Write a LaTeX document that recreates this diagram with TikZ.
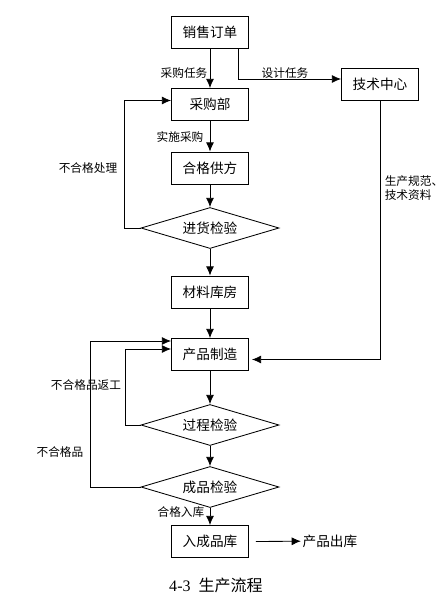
\documentclass[tikz,border=0pt]{standalone}
\usepackage{fontspec}
\setmainfont{Noto Sans CJK SC}
\newfontfamily\numfont{Liberation Serif}
\usetikzlibrary{shapes.geometric,calc,arrows.meta}

\begin{document}
\begin{tikzpicture}[x=0.025cm, y=-0.025cm, >={Latex[length=2.3mm,width=2mm]}, line width=0.6pt]
        \tikzstyle{box}=[draw, rectangle, inner sep=0pt, minimum width=1.925cm, minimum height=0.8cm, font=\fontsize{9.7}{11}\selectfont]
        \tikzstyle{check}=[draw, diamond, aspect=3.4, inner sep=0pt, minimum width=3.45cm, minimum height=1.025cm, font=\fontsize{9.7}{11}\selectfont]
        \tikzstyle{lbl}=[inner sep=1pt, font=\fontsize{8.3}{10.5}\selectfont]
        \useasboundingbox [fill=white] (0,0) rectangle (446,608);
        % main column
        \node [box] (sale) at (210,32) {销售订单};
        \node [box] (purch) at (210,104.5) {采购部};
        \node [box] (supp) at (210,168) {合格供方};
        \node [check] (inchk) at (210,228) {进货检验};
        \node [box] (store) at (210,292) {材料库房};
        \node [box] (make) at (210,354.5) {产品制造};
        \node [check] (pchk) at (210,425) {过程检验};
        \node [check] (fchk) at (210,487) {成品检验};
        \node [box] (fstore) at (210,541.5) {入成品库};
        \node [box] (tech) at (380,84) {技术中心};
        \node [inner sep=1pt, font=\fontsize{9.7}{11}\selectfont] (out) at (330,541) {产品出库};
        % labels
        \node [lbl] (l1) at (184,73) {采购任务};
        \node [lbl] (l2) at (285,73) {设计任务};
        \node [lbl] (l3) at (180,137) {实施采购};
        \node [lbl] (l4) at (88,168) {不合格处理};
        \node [lbl, align=left] (l5) at (414,188) {生产规范、\\技术资料};
        \node [lbl] (l6) at (86,385) {不合格品返工};
        \node [lbl] (l7) at (60,452) {不合格品};
        \node [lbl] (l8) at (181,512) {合格入库};
        \node [font=\fontsize{11.4}{13}\selectfont] (cap) at (216,585) {{\numfont 4-3}\enspace 生产流程};
        % connectors
        \draw [->] (sale) -- (purch);
        \draw [->] (sale.south) ++(28,0) |- ($(tech.west)+(0,-5)$);
        \draw [->] (purch) -- (supp);
        \draw [->] (supp) -- (inchk);
        \draw [->] (inchk.west) -- ++(-16,0) |- ($(purch.west)+(0,-4)$);
        \draw [->] (inchk) -- (store);
        \draw [->] (store) -- (make);
        \draw [->] (tech.south) |- ($(make.east)+(3,5)$);
        \draw [->] (make) -- (pchk);
        \draw [->] (pchk.west) -- ++(-15,0) |- ($(make.west)+(0,-5.5)$);
        \draw [->] (pchk) -- (fchk);
        \draw [->] (fchk.west) -- ++(-50,0) |- ($(make.west)+(0,-13.5)$);
        \draw [->] (fchk) -- (fstore);
        \draw [->] (fstore.east) ++(7,0) -- (out);
\end{tikzpicture}
\end{document}
